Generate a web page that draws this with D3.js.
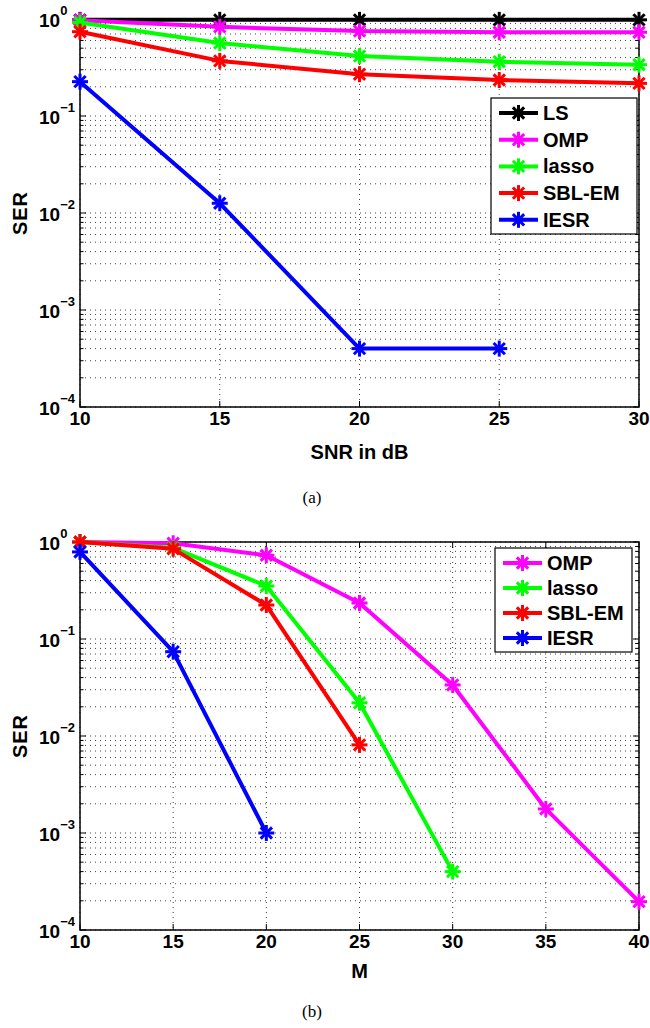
<!DOCTYPE html>
<html><head><meta charset="utf-8">
<script src="https://cdn.jsdelivr.net/npm/d3@7"></script>
<style>
body{margin:0;background:#fff;}
svg{display:block;font-family:"Liberation Sans",Arial,sans-serif;}
</style></head>
<body><svg id="chart" width="650" height="1028"></svg>
<script>
// ---- data ----
const snrDb = [10, 15, 20, 25, 30];
const serLS_a    = [0.98, 0.98, 0.98, 0.98, 0.98];
const serOMP_a   = [0.97, 0.83, 0.75, 0.73, 0.73];
const serLasso_a = [0.92, 0.565, 0.415, 0.363, 0.338];
const serSBL_a   = [0.74, 0.37, 0.27, 0.235, 0.217];
const serIESR_a  = [0.226, 0.0126, 0.0004, 0.0004];

const mVals = [10, 15, 20, 25, 30, 35, 40];
const serOMP_b   = [1.0, 0.97, 0.73, 0.235, 0.0336, 0.00177, 0.000196];
const serLasso_b = [1.0, 0.87, 0.352, 0.022, 0.0004];
const serSBL_b   = [1.0, 0.85, 0.224, 0.0081];
const serIESR_b  = [0.79, 0.074, 0.001];

const yTickExps = [0, -1, -2, -3, -4];
const xTicksA = [10, 15, 20, 25, 30];
const xTicksB = [10, 15, 20, 25, 30, 35, 40];

const colors = {LS:"#000000", OMP:"#ff00ff", lasso:"#00ff00", "SBL-EM":"#ff0000", IESR:"#0000ff"};

const svg = d3.select("#chart");

function asterisk(g, x, y, color, r) {
  const s = g.append("g").attr("transform", `translate(${x},${y})`);
  const d = r * Math.SQRT1_2;
  [[-r,0,r,0],[0,-r,0,r],[-d,-d,d,d],[-d,d,d,-d]].forEach(l=>{
    s.append("line").attr("x1",l[0]).attr("y1",l[1]).attr("x2",l[2]).attr("y2",l[3])
      .attr("stroke",color).attr("stroke-width",3).attr("stroke-linecap","butt");
  });
}

function drawPlot(o) {
  const g = svg.append("g");
  const x = d3.scaleLinear().domain(o.xDomain).range([o.left, o.right]);
  const y = d3.scaleLog().domain([1e-4, 1]).range([o.bottom, o.top]);

  const yGrid = [];
  for (let e = -4; e < 0; e++) for (let m = 1; m <= 9; m++) yGrid.push(m * Math.pow(10, e));
  yGrid.push(1);
  g.append("g").selectAll("line").data(yGrid).join("line")
    .attr("x1", o.left).attr("x2", o.right)
    .attr("y1", d => y(d)).attr("y2", d => y(d))
    .attr("stroke", "#444").attr("stroke-width", 1).attr("stroke-dasharray", "1,4");
  g.append("g").selectAll("line").data(o.xTicks).join("line")
    .attr("x1", d => x(d)).attr("x2", d => x(d))
    .attr("y1", o.top).attr("y2", o.bottom)
    .attr("stroke", "#444").attr("stroke-width", 1).attr("stroke-dasharray", "1,4");

  const tk = g.append("g").attr("stroke", "#000").attr("stroke-width", 1);
  yGrid.forEach(v => {
    const major = Math.abs(Math.log10(v) - Math.round(Math.log10(v))) < 1e-9;
    const len = major ? 6 : 3.5;
    tk.append("line").attr("x1", o.left).attr("x2", o.left + len).attr("y1", y(v)).attr("y2", y(v));
    tk.append("line").attr("x1", o.right).attr("x2", o.right - len).attr("y1", y(v)).attr("y2", y(v));
  });
  o.xTicks.forEach(v => {
    tk.append("line").attr("x1", x(v)).attr("x2", x(v)).attr("y1", o.bottom).attr("y2", o.bottom - 6);
    tk.append("line").attr("x1", x(v)).attr("x2", x(v)).attr("y1", o.top).attr("y2", o.top + 6);
  });

  g.append("rect").attr("x", o.left).attr("y", o.top)
    .attr("width", o.right - o.left).attr("height", o.bottom - o.top)
    .attr("fill", "none").attr("stroke", "#000").attr("stroke-width", 1.5);

  yTickExps.forEach(e => {
    const t = g.append("text").attr("x", 39).attr("y", y(Math.pow(10, e)) + 8)
      .attr("text-anchor", "start").attr("font-weight", "bold").attr("font-size", 19).attr("fill", "#000");
    t.append("tspan").text("10");
    t.append("tspan").attr("dy", -12).attr("font-size", 13).text(e === 0 ? "0" : "\u2212" + (-e));
  });
  g.append("g").selectAll("text").data(o.xTicks).join("text")
    .attr("x", d => x(d)).attr("y", o.bottom + 18)
    .attr("text-anchor", "middle").attr("font-weight", "bold").attr("font-size", 19)
    .text(d => d);

  g.append("text").attr("transform", `translate(27,${(o.top + o.bottom) / 2}) rotate(-90)`)
    .attr("text-anchor", "middle").attr("font-weight", "bold").attr("font-size", 20)
    .attr("letter-spacing", 1).text("SER");
  g.append("text").attr("x", (o.left + o.right) / 2).attr("y", o.bottom + o.xlabOff)
    .attr("text-anchor", "middle").attr("font-weight", "bold").attr("font-size", 20).text(o.xLabel);
  g.append("text").attr("x", 312).attr("y", o.caption)
    .attr("text-anchor", "middle").attr("font-family", "'Liberation Serif','Times New Roman',serif")
    .attr("font-size", 17).text(o.captionText);

  const line = d3.line().x(d => x(d[0])).y(d => y(d[1]));
  o.series.forEach(s => {
    const pts = s.values.map((v, i) => [o.xVals[i], v]);
    g.append("path").datum(pts).attr("d", line).attr("fill", "none")
      .attr("stroke", colors[s.name]).attr("stroke-width", 4).attr("stroke-linejoin", "round");
    pts.forEach(p => asterisk(g, x(p[0]), y(p[1]), colors[s.name], 8));
  });

  const L = o.legend;
  g.append("rect").attr("x", L.x).attr("y", L.y).attr("width", L.w).attr("height", L.h)
    .attr("fill", "#fff").attr("stroke", "#000").attr("stroke-width", 1.2);
  o.series.forEach((s, i) => {
    const cy = L.y + L.first + i * L.step;
    g.append("line").attr("x1", L.x + 8).attr("x2", L.x + 47).attr("y1", cy).attr("y2", cy)
      .attr("stroke", colors[s.name]).attr("stroke-width", 4);
    asterisk(g, L.x + 27.5, cy, colors[s.name], 8);
    g.append("text").attr("x", L.x + 52).attr("y", cy + 7).attr("font-weight", "bold")
      .attr("font-size", 20).text(s.name);
  });
}

drawPlot({
  left: 80, right: 639, top: 19, bottom: 407,
  xDomain: [10, 30], xTicks: xTicksA, xVals: snrDb,
  xLabel: "SNR in dB", xlabOff: 52, caption: 503, captionText: "(a)",
  series: [
    {name: "LS", values: serLS_a},
    {name: "OMP", values: serOMP_a},
    {name: "lasso", values: serLasso_a},
    {name: "SBL-EM", values: serSBL_a},
    {name: "IESR", values: serIESR_a}
  ],
  legend: {x: 491, y: 98, w: 146, h: 136, first: 15, step: 26.7}
});

drawPlot({
  left: 80, right: 639, top: 542, bottom: 930,
  xDomain: [10, 40], xTicks: xTicksB, xVals: mVals,
  xLabel: "M", xlabOff: 48, caption: 1017, captionText: "(b)",
  series: [
    {name: "OMP", values: serOMP_b},
    {name: "lasso", values: serLasso_b},
    {name: "SBL-EM", values: serSBL_b},
    {name: "IESR", values: serIESR_b}
  ],
  legend: {x: 495, y: 548, w: 137, h: 104, first: 15, step: 25}
});
</script></body></html>
